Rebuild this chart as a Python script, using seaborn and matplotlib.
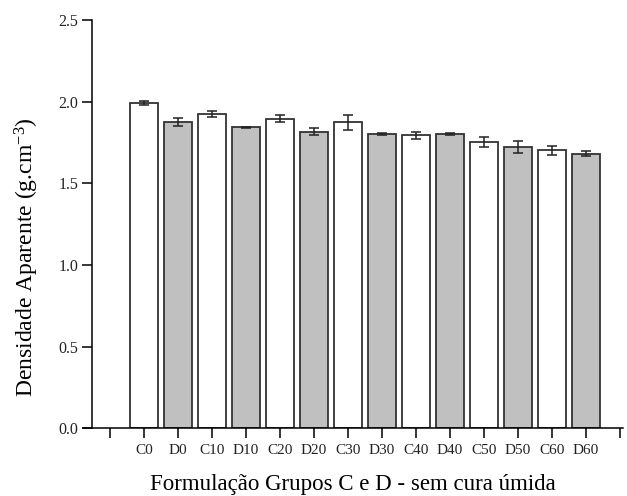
import matplotlib
matplotlib.use("Agg")
import matplotlib.pyplot as plt
import seaborn as sns
import pandas as pd

# Formulations and measured apparent density (mean and standard deviation)
formulations = ["C0", "D0", "C10", "D10", "C20", "D20", "C30", "D30",
                "C40", "D40", "C50", "D50", "C60", "D60"]
groups = ["C", "D", "C", "D", "C", "D", "C", "D", "C", "D", "C", "D", "C", "D"]
density = [1.99, 1.874, 1.925, 1.843, 1.896, 1.816, 1.874, 1.802,
           1.794, 1.804, 1.753, 1.723, 1.702, 1.680]
density_sd = [0.013, 0.025, 0.017, 0.003, 0.022, 0.021, 0.047, 0.004,
              0.022, 0.006, 0.032, 0.039, 0.028, 0.015]
y_ticks = [0.0, 0.5, 1.0, 1.5, 2.0, 2.5]

df = pd.DataFrame({"form": formulations, "grupo": groups,
                   "dens": density, "sd": density_sd})

sns.set_theme(style="ticks")
plt.rcParams["font.family"] = ["Liberation Serif", "DejaVu Serif"]
plt.rcParams["mathtext.fontset"] = "custom"
plt.rcParams["mathtext.rm"] = "Liberation Serif"
plt.rcParams["mathtext.it"] = "Liberation Serif:italic"
plt.rcParams["mathtext.bf"] = "Liberation Serif:bold"
plt.rcParams["axes.unicode_minus"] = False

fig = plt.figure(figsize=(6.27, 4.96), dpi=100)
ax = fig.add_axes([0.1329, 0.1365, 0.8607, 0.8232])

# empty slots on both ends of the category axis
order = [""] + formulations + [" "]
sns.barplot(data=df, x="form", y="dens", hue="grupo", order=order,
            palette={"C": "white", "D": "#c0c0c0"}, dodge=False,
            width=0.84, edgecolor="#333333", linewidth=1.3,
            legend=False, ax=ax)

xpos = [order.index(f) for f in formulations]
ax.errorbar(xpos, df["dens"], yerr=df["sd"], fmt="none",
            ecolor="#222222", elinewidth=1.1, capsize=3.8, capthick=1.1)

ax.set_xlim(-0.785, 15.09)
ax.set_ylim(0, 2.5)
ax.set_yticks(y_ticks)
ax.set_yticklabels([f"{v:.1f}" for v in y_ticks])
ax.set_xticks(range(len(order)))
ax.set_xticklabels(order)

sns.despine(ax=ax)
ax.spines["left"].set_position(("data", -0.52))
for s in ("left", "bottom"):
    ax.spines[s].set_color("black")
    ax.spines[s].set_linewidth(1.1)

ax.tick_params(axis="both", direction="out", length=7, width=1.1,
               color="black", labelcolor="#222222")
ax.tick_params(axis="x", labelsize=11, pad=4)
ax.tick_params(axis="y", labelsize=11.5, pad=3)

ax.set_xlabel("Formulação Grupos C e D - sem cura úmida", fontsize=16.5,
              color="black")
ax.xaxis.set_label_coords(0.5, -0.112)
ax.set_ylabel("Densidade Aparente (g.cm$^{\\mathrm{-3}}$)", fontsize=17,
              color="black")
ax.yaxis.set_label_coords(-0.078, 0.42)

fig.savefig("out.png", dpi=100)
